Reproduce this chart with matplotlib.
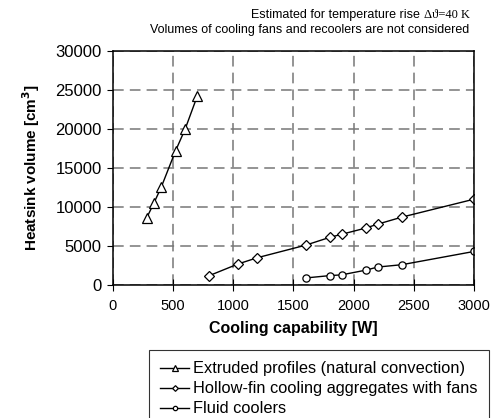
import matplotlib
matplotlib.use("Agg")
import matplotlib.pyplot as plt
from matplotlib.ticker import MultipleLocator

plt.rcParams["font.family"] = ["Liberation Sans", "DejaVu Sans"]

# extruded profiles, natural convection
ext_w = [280, 340, 400, 520, 600, 700]
ext_v = [8600, 10500, 12500, 17200, 20000, 24200]
# hollow-fin cooling aggregates with fans
hf_w = [800, 1040, 1200, 1600, 1800, 1900, 2100, 2200, 2400, 3000]
hf_v = [1200, 2700, 3500, 5100, 6100, 6500, 7300, 7800, 8700, 11000]
# fluid coolers
fl_w = [1600, 1800, 1900, 2100, 2200, 2400, 3000]
fl_v = [900, 1200, 1300, 1900, 2300, 2600, 4300]

fig = plt.figure(figsize=(4.94, 4.18), dpi=100)
ax = fig.add_axes([0.2287, 0.3182, 0.7308, 0.5598])

mk = dict(color="black", lw=1, mfc="white", mec="black", mew=0.9)
ax.plot(ext_w, ext_v, marker="^", ms=6.5, label="Extruded profiles (natural convection)", **mk)
ax.plot(hf_w, hf_v, marker="D", ms=4.8, label="Hollow-fin cooling aggregates with fans", **mk)
ax.plot(fl_w, fl_v, marker="o", ms=5.2, label="Fluid coolers", **mk)

ax.set_xlim(0, 3000)
ax.set_ylim(0, 30000)
ax.xaxis.set_major_locator(MultipleLocator(500))
ax.yaxis.set_major_locator(MultipleLocator(5000))
ax.grid(True, ls=(0, (7, 4)), color="#777777", lw=1.1)
ax.set_axisbelow(True)
ax.tick_params(axis="x", direction="inout", length=8, labelsize=10.5, pad=6)
ax.tick_params(axis="y", direction="out", length=4, labelsize=12, pad=4)
for s in ax.spines.values():
    s.set_linewidth(1.1)

ax.set_xlabel("Cooling capability [W]", fontsize=11.5, fontweight="bold", labelpad=6)
ax.set_ylabel("Heatsink volume [cm$^\\mathbf{3}$]", fontsize=11, fontweight="bold", labelpad=10)

t2 = fig.text(0.951, 1 - 15 / 418, "\u0394\u03d1=40 K", family="Liberation Serif",
              fontsize=9, ha="right", va="center")
ax.annotate("Estimated for temperature rise ", xy=(0, 0.5), xycoords=t2,
            ha="right", va="center", fontsize=9, annotation_clip=False)
fig.text(0.949, 1 - 30 / 418, "Volumes of cooling fans and recoolers are not considered",
         fontsize=9, ha="right", va="center")

leg = ax.legend(loc="upper left", bbox_to_anchor=(149 / 494, 1 - 350 / 418),
                bbox_transform=fig.transFigure, fontsize=11.8, frameon=True,
                fancybox=False, edgecolor="black", handlelength=1.75,
                markerscale=0.6, borderpad=0.7, labelspacing=0.3,
                handletextpad=0.25, borderaxespad=0)
leg.get_frame().set_linewidth(0.8)

fig.savefig("out.png", dpi=100)
